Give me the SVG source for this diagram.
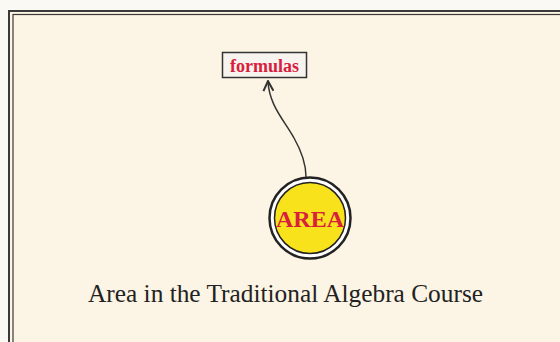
<svg xmlns="http://www.w3.org/2000/svg" width="560" height="342" viewBox="0 0 560 342">
<defs>
<style>
.frame{fill:none;stroke:#3a3a3a}
.lbl{font-family:"Liberation Serif","Times New Roman",serif;font-weight:bold;fill:#d8203c;text-anchor:middle}
.cap{font-family:"Liberation Serif","Times New Roman",serif;font-size:25px;fill:#222;text-anchor:middle}
.edge{fill:none;stroke:#333;stroke-width:1.5}
</style>
<marker id="arr" viewBox="0 0 12 12" refX="11" refY="6" markerWidth="12" markerHeight="12" orient="auto" markerUnits="userSpaceOnUse">
<path d="M1,1 L11,6 L1,11" fill="none" stroke="#333" stroke-width="2"/>
</marker>
</defs>
<rect width="560" height="342" fill="#fbf9f4"/>
<rect x="9" y="11" width="560" height="340" fill="#fcf4e4"/>
<rect class="frame" x="9" y="11" width="560" height="340" stroke-width="2"/>
<rect class="frame" x="13" y="14.5" width="560" height="340" stroke-width="1.2"/>
<g id="connectors">
<path class="edge" d="M306,177 C306,165 302,152 294,138 C284,120 269,105 268,81" marker-end="url(#arr)"/>
</g>
<g id="formulas">
<rect x="222.5" y="52.5" width="84" height="25" fill="#f7f4ef" stroke="#333" stroke-width="1.5"/>
<text class="lbl" x="264.5" y="71.5" font-size="18">formulas</text>
</g>
<g id="area">
<circle cx="310" cy="218" r="40.5" fill="#fff" stroke="#222" stroke-width="2.5"/>
<circle cx="310" cy="218" r="35.5" fill="#f8e21c" stroke="#222" stroke-width="1.5"/>
<text class="lbl" x="310" y="226.5" font-size="24">AREA</text>
</g>
<text class="cap" x="285.5" y="302" textLength="395" lengthAdjust="spacingAndGlyphs">Area in the Traditional Algebra Course</text>
</svg>
